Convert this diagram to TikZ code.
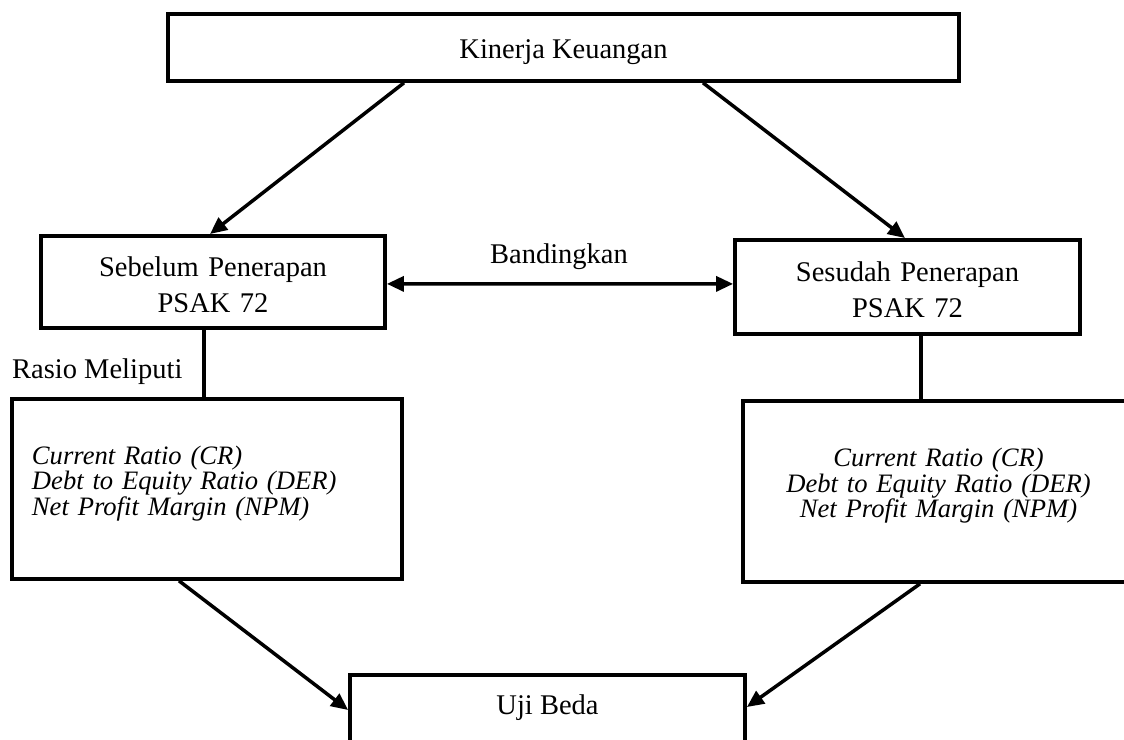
\documentclass[tikz,border=0pt]{standalone}
\usepackage{fontspec}
\setmainfont{Liberation Serif}
\usetikzlibrary{arrows.meta}
\begin{document}
\begin{tikzpicture}[x=1bp,y=-1bp,
  box/.style={draw=black, line width=3.8bp, inner sep=0pt, fill=white},
  up/.style={font=\fontsize{28.5bp}{36bp}\selectfont},
  it/.style={font=\fontsize{26.6bp}{23.3bp}\selectfont\itshape},
  arr/.style={line width=3.5bp, -{Triangle[length=17bp,width=15bp]}},
  dbl/.style={line width=3.5bp, {Triangle[length=17bp,width=15bp]}-{Triangle[length=17bp,width=15bp]}},
  ln/.style={line width=3.5bp},
  lbl/.style={up, inner sep=0pt}
]
\useasboundingbox (0,0) rectangle (1124,740);
\clip (0,0) rectangle (1124,740);

\node[box, up, anchor=north, minimum width=791bp, text height=45bp, text depth=22bp] (top) at (563.5,12) {Kinerja Keuangan};

\node[box, up, anchor=north, text width=344bp, align=center, text height=41bp, text depth=51bp] (sb) at (213,234) {Sebelum Penerapan\\PSAK 72};

\node[box, up, anchor=north, text width=345bp, align=center, text height=42bp, text depth=52bp] (ss) at (907.5,238) {Sesudah Penerapan\\PSAK 72};

\node[box, it, anchor=north, text width=350bp, align=left, inner xsep=20bp, text height=65.7bp, text depth=114.3bp] (lb) at (207,397) {Current Ratio (CR)\\Debt to Equity Ratio (DER)\\Net Profit Margin (NPM)};

\node[box, it, anchor=north, text width=391bp, align=center, text height=66bp, text depth=115bp] (rb) at (938.5,399) {Current Ratio (CR)\\Debt to Equity Ratio (DER)\\Net Profit Margin (NPM)};

\node[box, up, anchor=north, minimum width=395bp, text height=40bp, text depth=70bp] (uji) at (547.5,673) {Uji Beda};

\node[lbl, anchor=base] (band) at (559,263) {Bandingkan};
\node[lbl, anchor=base west] (rasio) at (12,378) {Rasio Meliputi};

\draw[arr] ([xshift=-159.5bp]top.south) -- ([xshift=-3bp]sb.north);
\draw[arr] ([xshift=139.5bp]top.south) -- ([xshift=-2.5bp]ss.north);
\draw[dbl] ([yshift=-2bp]sb.east) -- ([yshift=3bp]ss.west);
\draw[ln] ([xshift=-9bp]sb.south) -- ([xshift=-9bp]sb.south |- lb.north);
\draw[ln] ([xshift=13.5bp]ss.south) -- ([xshift=13.5bp]ss.south |- rb.north);
\draw[arr] ([xshift=-28bp]lb.south) -- ([yshift=-37bp]uji.north west);
\draw[arr] ([xshift=-18.5bp]rb.south) -- ([yshift=-34bp]uji.north east);
\end{tikzpicture}
\end{document}
